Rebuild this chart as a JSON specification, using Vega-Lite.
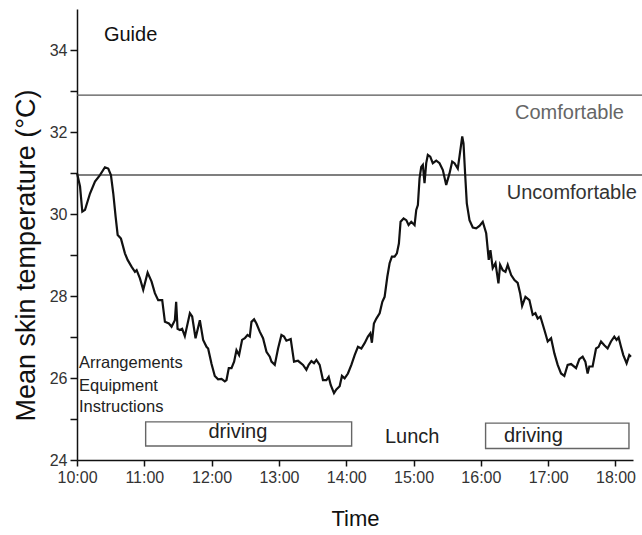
{
  "$schema": "https://vega.github.io/schema/vega-lite/v6.json",
  "width": 556,
  "height": 451,
  "autosize": {"type": "none"},
  "padding": {"left": 77, "top": 9, "right": 9, "bottom": 75},
  "background": "white",
  "config": {
    "view": {"stroke": null},
    "font": "Liberation Sans",
    "axis": {"grid": false, "domainColor": "#111", "tickColor": "#111", "labelColor": "#333", "titleColor": "#111", "labelFont": "Liberation Sans", "titleFont": "Liberation Sans", "titleFontWeight": "normal", "labelFlush": false}
  },
  "datasets": {
    "series": [
      {"t": 10.000, "v": 31.0}, {"t": 10.045, "v": 30.67}, {"t": 10.079, "v": 30.06}, {"t": 10.119, "v": 30.1},
      {"t": 10.193, "v": 30.5}, {"t": 10.267, "v": 30.79}, {"t": 10.341, "v": 30.95}, {"t": 10.415, "v": 31.14},
      {"t": 10.464, "v": 31.11}, {"t": 10.504, "v": 30.95}, {"t": 10.539, "v": 30.5}, {"t": 10.574, "v": 29.93},
      {"t": 10.604, "v": 29.49}, {"t": 10.653, "v": 29.4}, {"t": 10.712, "v": 29.04}, {"t": 10.752, "v": 28.88},
      {"t": 10.812, "v": 28.71}, {"t": 10.861, "v": 28.59}, {"t": 10.886, "v": 28.63}, {"t": 10.935, "v": 28.43},
      {"t": 10.984, "v": 28.15}, {"t": 11.049, "v": 28.57}, {"t": 11.108, "v": 28.35}, {"t": 11.157, "v": 28.07},
      {"t": 11.206, "v": 27.9}, {"t": 11.266, "v": 27.9}, {"t": 11.306, "v": 27.37}, {"t": 11.365, "v": 27.33},
      {"t": 11.405, "v": 27.25}, {"t": 11.454, "v": 27.41}, {"t": 11.473, "v": 27.86}, {"t": 11.494, "v": 27.2},
      {"t": 11.528, "v": 27.17}, {"t": 11.562, "v": 27.2}, {"t": 11.602, "v": 27.02}, {"t": 11.677, "v": 27.58},
      {"t": 11.711, "v": 27.5}, {"t": 11.761, "v": 26.97}, {"t": 11.825, "v": 27.41}, {"t": 11.874, "v": 26.93},
      {"t": 11.924, "v": 26.76}, {"t": 11.948, "v": 26.72}, {"t": 11.999, "v": 26.34}, {"t": 12.047, "v": 26.05},
      {"t": 12.096, "v": 25.97}, {"t": 12.147, "v": 25.98}, {"t": 12.196, "v": 25.92}, {"t": 12.221, "v": 25.95},
      {"t": 12.255, "v": 26.24}, {"t": 12.295, "v": 26.24}, {"t": 12.334, "v": 26.4}, {"t": 12.369, "v": 26.68},
      {"t": 12.408, "v": 26.56}, {"t": 12.453, "v": 26.93}, {"t": 12.493, "v": 26.97}, {"t": 12.533, "v": 27.05},
      {"t": 12.567, "v": 27.01}, {"t": 12.592, "v": 27.37}, {"t": 12.631, "v": 27.43}, {"t": 12.666, "v": 27.33},
      {"t": 12.715, "v": 27.13}, {"t": 12.764, "v": 26.97}, {"t": 12.815, "v": 26.64}, {"t": 12.864, "v": 26.52},
      {"t": 12.889, "v": 26.4}, {"t": 12.938, "v": 26.32}, {"t": 12.987, "v": 26.72}, {"t": 13.037, "v": 27.05},
      {"t": 13.076, "v": 27.01}, {"t": 13.111, "v": 26.91}, {"t": 13.175, "v": 26.95}, {"t": 13.224, "v": 26.4},
      {"t": 13.283, "v": 26.42}, {"t": 13.358, "v": 26.32}, {"t": 13.408, "v": 26.2}, {"t": 13.442, "v": 26.32},
      {"t": 13.482, "v": 26.41}, {"t": 13.521, "v": 26.36}, {"t": 13.556, "v": 26.44}, {"t": 13.605, "v": 26.32},
      {"t": 13.654, "v": 25.95}, {"t": 13.705, "v": 25.95}, {"t": 13.739, "v": 26.03}, {"t": 13.769, "v": 25.83},
      {"t": 13.818, "v": 25.63}, {"t": 13.853, "v": 25.72}, {"t": 13.902, "v": 25.8}, {"t": 13.936, "v": 26.05},
      {"t": 13.976, "v": 25.99}, {"t": 14.025, "v": 26.11}, {"t": 14.076, "v": 26.32}, {"t": 14.125, "v": 26.56},
      {"t": 14.174, "v": 26.76}, {"t": 14.224, "v": 26.72}, {"t": 14.273, "v": 26.85}, {"t": 14.322, "v": 27.01},
      {"t": 14.358, "v": 27.09}, {"t": 14.381, "v": 26.86}, {"t": 14.411, "v": 27.33}, {"t": 14.447, "v": 27.45},
      {"t": 14.496, "v": 27.58}, {"t": 14.536, "v": 27.86}, {"t": 14.570, "v": 27.98}, {"t": 14.610, "v": 28.47},
      {"t": 14.644, "v": 28.8}, {"t": 14.678, "v": 28.96}, {"t": 14.718, "v": 28.96}, {"t": 14.752, "v": 29.04},
      {"t": 14.782, "v": 29.28}, {"t": 14.807, "v": 29.81}, {"t": 14.852, "v": 29.89}, {"t": 14.892, "v": 29.85},
      {"t": 14.926, "v": 29.73}, {"t": 14.966, "v": 29.81}, {"t": 15.015, "v": 29.73}, {"t": 15.040, "v": 30.1},
      {"t": 15.064, "v": 30.22}, {"t": 15.089, "v": 30.87}, {"t": 15.114, "v": 31.15}, {"t": 15.138, "v": 31.2},
      {"t": 15.163, "v": 30.75}, {"t": 15.188, "v": 31.24}, {"t": 15.212, "v": 31.44}, {"t": 15.248, "v": 31.4},
      {"t": 15.286, "v": 31.24}, {"t": 15.337, "v": 31.3}, {"t": 15.386, "v": 31.24}, {"t": 15.435, "v": 31.07},
      {"t": 15.485, "v": 30.71}, {"t": 15.534, "v": 30.99}, {"t": 15.574, "v": 31.28}, {"t": 15.608, "v": 31.24},
      {"t": 15.657, "v": 31.11}, {"t": 15.682, "v": 31.4}, {"t": 15.723, "v": 31.89}, {"t": 15.742, "v": 31.72},
      {"t": 15.767, "v": 30.95}, {"t": 15.791, "v": 30.26}, {"t": 15.831, "v": 29.85}, {"t": 15.880, "v": 29.67},
      {"t": 15.930, "v": 29.65}, {"t": 15.979, "v": 29.71}, {"t": 16.028, "v": 29.81}, {"t": 16.079, "v": 29.53},
      {"t": 16.117, "v": 28.88}, {"t": 16.142, "v": 29.12}, {"t": 16.176, "v": 28.68}, {"t": 16.217, "v": 28.8},
      {"t": 16.261, "v": 28.31}, {"t": 16.286, "v": 28.76}, {"t": 16.325, "v": 28.63}, {"t": 16.365, "v": 28.59},
      {"t": 16.399, "v": 28.76}, {"t": 16.450, "v": 28.51}, {"t": 16.499, "v": 28.39}, {"t": 16.547, "v": 28.32},
      {"t": 16.583, "v": 28.07}, {"t": 16.613, "v": 27.76}, {"t": 16.662, "v": 27.98}, {"t": 16.721, "v": 27.9},
      {"t": 16.770, "v": 27.54}, {"t": 16.810, "v": 27.58}, {"t": 16.844, "v": 27.45}, {"t": 16.884, "v": 27.5},
      {"t": 16.944, "v": 27.17}, {"t": 16.993, "v": 26.89}, {"t": 17.043, "v": 26.97}, {"t": 17.092, "v": 26.6},
      {"t": 17.141, "v": 26.32}, {"t": 17.191, "v": 26.11}, {"t": 17.240, "v": 26.05}, {"t": 17.289, "v": 26.32},
      {"t": 17.340, "v": 26.34}, {"t": 17.378, "v": 26.29}, {"t": 17.414, "v": 26.24}, {"t": 17.463, "v": 26.46},
      {"t": 17.512, "v": 26.52}, {"t": 17.552, "v": 26.4}, {"t": 17.586, "v": 26.11}, {"t": 17.611, "v": 26.28},
      {"t": 17.660, "v": 26.28}, {"t": 17.711, "v": 26.72}, {"t": 17.749, "v": 26.76}, {"t": 17.785, "v": 26.89},
      {"t": 17.834, "v": 26.8}, {"t": 17.883, "v": 26.72}, {"t": 17.933, "v": 26.89}, {"t": 17.982, "v": 27.01},
      {"t": 18.016, "v": 26.93}, {"t": 18.046, "v": 26.99}, {"t": 18.082, "v": 26.76}, {"t": 18.116, "v": 26.56},
      {"t": 18.165, "v": 26.36}, {"t": 18.205, "v": 26.56}, {"t": 18.230, "v": 26.52}
    ],
    "thresholds": [
      {"level": "Comfortable limit", "v": 32.9, "t0": 10.0, "t1": 18.4},
      {"level": "Uncomfortable limit", "v": 30.95, "t0": 10.0, "t1": 18.4}
    ],
    "activities": [
      {"activity": "driving (morning)", "t0": 11.02, "t1": 14.08, "v0": 24.34, "v1": 24.93},
      {"activity": "driving (afternoon)", "t0": 16.07, "t1": 18.2, "v0": 24.28, "v1": 24.9}
    ],
    "notes": [
      {"group": "guide", "label": "Guide", "t": 10.4, "v": 34.37},
      {"group": "comf", "label": "Comfortable", "t": 17.317, "v": 32.46},
      {"group": "uncomf", "label": "Uncomfortable", "t": 17.35, "v": 30.52},
      {"group": "left", "label": "Arrangements", "t": 10.03, "v": 26.37},
      {"group": "left", "label": "Equipment", "t": 10.03, "v": 25.8},
      {"group": "left", "label": "Instructions", "t": 10.03, "v": 25.29},
      {"group": "center", "label": "driving", "t": 12.39, "v": 24.68},
      {"group": "center", "label": "Lunch", "t": 14.98, "v": 24.56},
      {"group": "center", "label": "driving", "t": 16.78, "v": 24.59}
    ]
  },
  "layer": [
    {
      "data": {"name": "thresholds"},
      "mark": {"type": "rule", "color": "#555", "strokeWidth": 1.4, "clip": false},
      "encoding": {
        "x": {"field": "t0", "type": "quantitative", "scale": {"domain": [10, 18.26], "nice": false, "zero": false},
          "axis": {"values": [10, 10.5, 11, 11.5, 12, 12.5, 13, 13.5, 14, 14.5, 15, 15.5, 16, 16.5, 17, 17.5, 18],
            "labelExpr": "datum.value % 1 === 0 ? datum.value + ':00' : ''",
            "tickSize": 6, "tickWidth": 1.5, "domainWidth": 1.5, "labelFontSize": 16, "labelPadding": 3,
            "labelOverlap": false,
            "title": "Time", "titleFontSize": 22, "titlePadding": 23}},
        "x2": {"field": "t1"},
        "y": {"field": "v", "type": "quantitative", "scale": {"domain": [24, 35], "nice": false, "zero": false},
          "axis": {"values": [24, 25, 26, 27, 28, 29, 30, 31, 32, 33, 34],
            "labelExpr": "datum.value % 2 === 0 ? datum.value : ''",
            "tickSize": 7, "tickWidth": 1.5, "domainWidth": 1.5, "labelFontSize": 16, "labelPadding": 3,
            "labelOverlap": false,
            "title": "Mean skin temperature (°C)", "titleFontSize": 27, "titlePadding": 9, "titleY": 246}}
      }
    },
    {
      "data": {"name": "activities"},
      "mark": {"type": "rect", "fill": "white", "stroke": "#666", "strokeWidth": 1.4},
      "encoding": {
        "x": {"field": "t0", "type": "quantitative"},
        "x2": {"field": "t1"},
        "y": {"field": "v0", "type": "quantitative"},
        "y2": {"field": "v1"}
      }
    },
    {
      "data": {"name": "series"},
      "mark": {"type": "line", "color": "#111", "strokeWidth": 2.2, "interpolate": "linear"},
      "encoding": {
        "x": {"field": "t", "type": "quantitative"},
        "y": {"field": "v", "type": "quantitative"}
      }
    },
    {
      "data": {"name": "notes"},
      "transform": [{"filter": "datum.group === 'guide'"}],
      "mark": {"type": "text", "align": "left", "baseline": "middle", "fontSize": 20, "color": "#111"},
      "encoding": {"x": {"field": "t", "type": "quantitative"}, "y": {"field": "v", "type": "quantitative"}, "text": {"field": "label"}}
    },
    {
      "data": {"name": "notes"},
      "transform": [{"filter": "datum.group === 'comf'"}],
      "mark": {"type": "text", "align": "center", "baseline": "middle", "fontSize": 20, "color": "#666"},
      "encoding": {"x": {"field": "t", "type": "quantitative"}, "y": {"field": "v", "type": "quantitative"}, "text": {"field": "label"}}
    },
    {
      "data": {"name": "notes"},
      "transform": [{"filter": "datum.group === 'uncomf'"}],
      "mark": {"type": "text", "align": "center", "baseline": "middle", "fontSize": 20, "color": "#333"},
      "encoding": {"x": {"field": "t", "type": "quantitative"}, "y": {"field": "v", "type": "quantitative"}, "text": {"field": "label"}}
    },
    {
      "data": {"name": "notes"},
      "transform": [{"filter": "datum.group === 'left'"}],
      "mark": {"type": "text", "align": "left", "baseline": "middle", "fontSize": 16.5, "color": "#222"},
      "encoding": {"x": {"field": "t", "type": "quantitative"}, "y": {"field": "v", "type": "quantitative"}, "text": {"field": "label"}}
    },
    {
      "data": {"name": "notes"},
      "transform": [{"filter": "datum.group === 'center'"}],
      "mark": {"type": "text", "align": "center", "baseline": "middle", "fontSize": 20, "color": "#222"},
      "encoding": {"x": {"field": "t", "type": "quantitative"}, "y": {"field": "v", "type": "quantitative"}, "text": {"field": "label"}}
    }
  ]
}
